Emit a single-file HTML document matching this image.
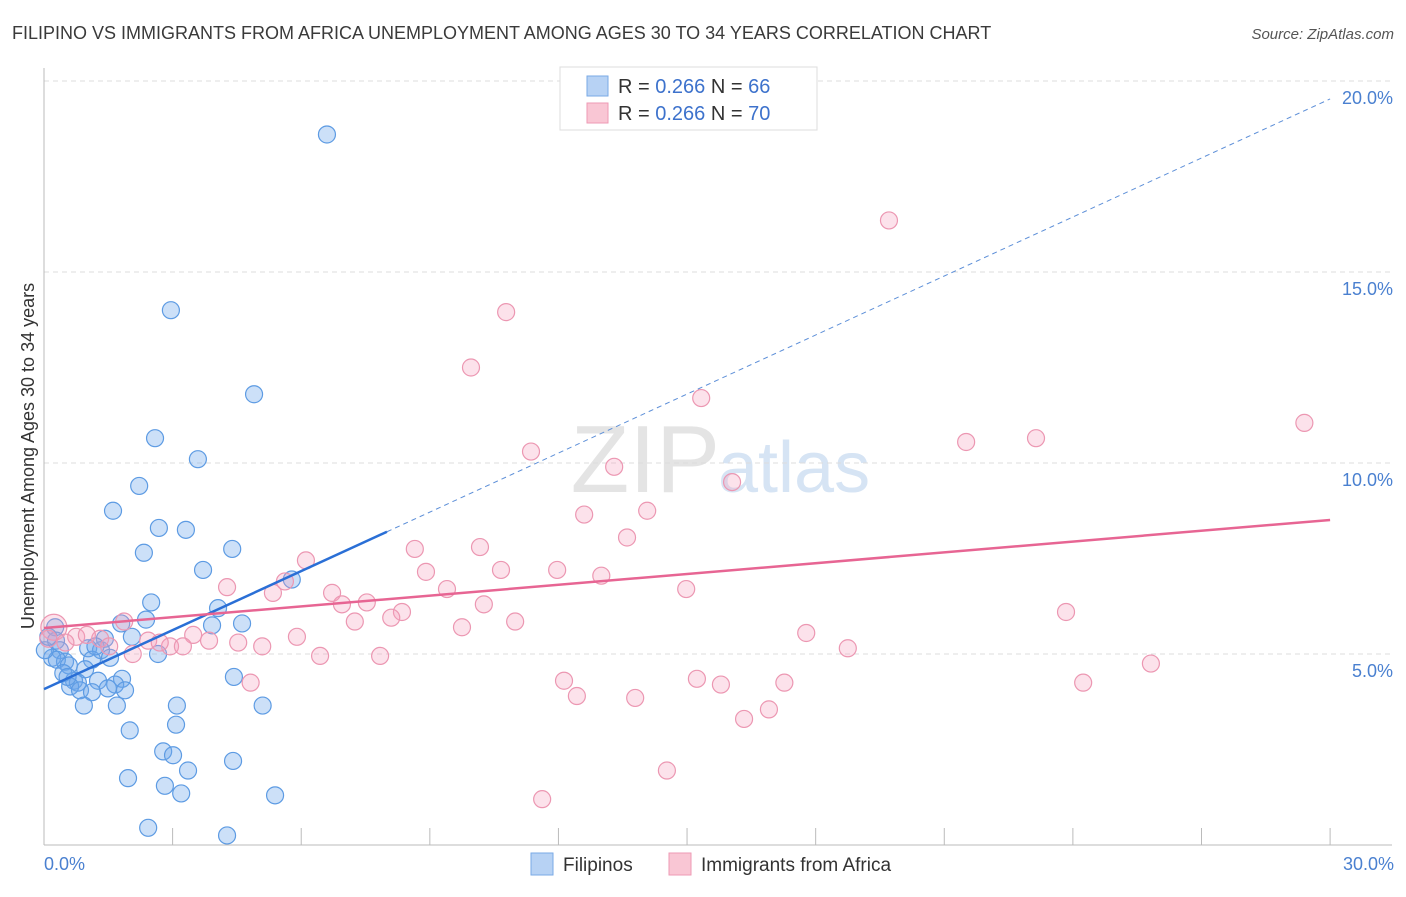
<!DOCTYPE html>
<html><head><meta charset="utf-8"><style>
body{margin:0;background:#fff;font-family:"Liberation Sans",sans-serif}
svg text{font-family:"Liberation Sans",sans-serif}
</style></head><body>
<svg width="1406" height="892" viewBox="0 0 1406 892">
<text x="12" y="39" font-size="18" fill="#3a3a3a">FILIPINO VS IMMIGRANTS FROM AFRICA UNEMPLOYMENT AMONG AGES 30 TO 34 YEARS CORRELATION CHART</text>
<text x="1394" y="39" font-size="15" fill="#555" text-anchor="end" font-style="italic">Source: ZipAtlas.com</text>
<text x="720" y="492" font-size="96" fill="#e4e4e4" text-anchor="end" font-family="Liberation Serif">ZIP</text>
<text x="718" y="492" font-size="72" fill="#d6e4f4">atlas</text>
<g id="grid"></g>
<g id="axes"></g>
<g id="pts"></g>
<g id="lines"></g>
<text transform="translate(34,456) rotate(-90)" font-size="18" fill="#333" text-anchor="middle">Unemployment Among Ages 30 to 34 years</text>
<text x="44" y="870" font-size="18" fill="#4a80d0">0.0%</text>
<text x="1394" y="870" font-size="18" fill="#4a80d0" text-anchor="end">30.0%</text>
<g>
<rect x="560" y="67" width="257" height="63" fill="#fff" stroke="#ddd"/>
<rect x="587" y="76" width="21" height="20" fill="#b7d2f4" stroke="#7aaae6"/>
<rect x="587" y="103" width="21" height="20" fill="#f9c6d4" stroke="#ee9ab4"/>
<text x="618" y="93" font-size="20" fill="#333">R = <tspan fill="#3d72cc">0.266</tspan>   N = <tspan fill="#3d72cc">66</tspan></text>
<text x="618" y="120" font-size="20" fill="#333">R = <tspan fill="#3d72cc">0.266</tspan>   N = <tspan fill="#3d72cc">70</tspan></text>
</g>
<g>
<rect x="531" y="853" width="22" height="22" fill="#b7d2f4" stroke="#7aaae6"/>
<text x="563" y="871" font-size="19" fill="#333">Filipinos</text>
<rect x="669" y="853" width="22" height="22" fill="#f9c6d4" stroke="#ee9ab4"/>
<text x="701" y="871" font-size="19" fill="#333">Immigrants from Africa</text>
</g>
</svg>
<script>
const yTicks=[5,10,15,20];
const yTickLabels=["5.0%","10.0%","15.0%","20.0%"];
const xTicks=[3,6,9,12,15,18,21,24,27,30];
const blueX=[6.6,2.96,4.9,2.59,3.59,2.22,1.61,2.68,3.31,4.39,2.33,3.71,5.78,2.5,4.06,2.38,1.8,4.62,3.92,0.26,2.05,1.42,0.28,1.03,0.37,1.33,2.66,0.19,1.54,1.12,0.49,0.3,0.58,0.96,4.43,1.82,1.26,0.7,0.79,1.66,0.61,1.49,1.89,0.84,1.12,0.93,1.7,3.1,5.1,3.08,2.0,2.78,3.01,4.41,3.36,1.96,2.82,3.2,5.39,2.43,4.27,0.02,0.1,0.45,1.2,0.55];
const blueY=[18.6,14.0,11.8,10.65,10.1,9.4,8.75,8.3,8.25,7.75,7.65,7.2,6.95,6.35,6.2,5.9,5.8,5.8,5.75,5.7,5.45,5.4,5.35,5.15,5.1,5.1,5.0,4.9,4.9,4.85,4.8,4.85,4.7,4.6,4.4,4.35,4.3,4.3,4.25,4.2,4.15,4.1,4.05,4.05,4.0,3.65,3.65,3.65,3.65,3.15,3.0,2.45,2.35,2.2,1.95,1.75,1.55,1.35,1.3,0.45,0.25,5.1,5.45,4.5,5.2,4.4];
const pinkX=[19.71,10.78,9.96,15.33,29.4,23.14,21.51,11.36,13.3,16.05,14.07,12.6,13.6,10.17,8.65,6.11,8.91,10.66,11.97,13.0,5.62,4.27,9.4,14.98,5.34,6.72,7.53,6.95,10.26,8.35,23.84,8.1,7.25,10.99,1.87,9.75,0.23,17.78,5.9,3.48,0.75,1.31,2.43,3.85,4.53,5.09,2.94,3.24,1.52,18.75,2.07,6.44,7.84,25.82,24.24,4.82,12.13,15.23,15.79,17.27,12.43,13.79,16.91,16.33,14.53,11.62,0.5,1.0,0.1,2.7];
const pinkY=[16.35,13.95,12.5,11.7,11.05,10.65,10.55,10.3,9.9,9.5,8.75,8.65,8.05,7.8,7.75,7.45,7.15,7.2,7.2,7.05,6.9,6.75,6.7,6.7,6.6,6.6,6.35,6.3,6.3,6.1,6.1,5.95,5.85,5.85,5.85,5.7,5.7,5.55,5.45,5.5,5.45,5.4,5.35,5.35,5.3,5.2,5.2,5.2,5.2,5.15,5.0,4.95,4.95,4.75,4.25,4.25,4.3,4.35,4.2,4.25,3.9,3.85,3.55,3.3,1.95,1.2,5.3,5.5,5.4,5.3];
const blueTrend=[4.08,0.515];
const pinkTrend=[5.68,0.0943];
const X=v=>44+v*42.87, Y=v=>845-v*38.2;
const NS="http://www.w3.org/2000/svg";
function mk(tag,attrs,parent){const e=document.createElementNS(NS,tag);for(const k in attrs)e.setAttribute(k,attrs[k]);document.getElementById(parent).appendChild(e);return e;}
yTicks.forEach((t,i)=>{
 const l=mk('line',{x1:44,x2:1392,y1:Y(t),y2:Y(t),stroke:'#ddd','stroke-dasharray':'5,4'},'grid');
 
 
 const tx=mk('text',{x:1393,y:Y(t)+23,'font-size':18,fill:'#4a80d0','text-anchor':'end'},'grid');
 tx.textContent=yTickLabels[i];
 
 
});
const ax=mk('line',{x1:44,x2:44,y1:68,y2:845,stroke:'#bbb'},'axes');


const bx=mk('line',{x1:44,x2:1392,y1:845,y2:845,stroke:'#bbb'},'axes');


xTicks.forEach(t=>{
 const l=mk('line',{x1:X(t),x2:X(t),y1:828,y2:845,stroke:'#bbb'},'axes');
 
 
});
blueX.forEach((v,i)=>{
 const c=mk('circle',{cx:X(v),cy:Y(blueY[i]),r:8.5,fill:'rgba(110,165,235,0.35)',stroke:'#5d9be3','stroke-width':1.2},'pts');
 
 
});
pinkX.forEach((v,i)=>{
 const c=mk('circle',{cx:X(v),cy:Y(pinkY[i]),r:i==36?13:8.5,fill:'rgba(245,160,190,0.3)',stroke:'#ec97b2','stroke-width':1.2},'pts');
 
 
});
const bs=mk('line',{x1:X(0),y1:Y(blueTrend[0]),x2:X(8),y2:Y(blueTrend[0]+8*blueTrend[1]),stroke:'#2a6fd6','stroke-width':2.5},'lines');


const bd=mk('line',{x1:X(8),y1:Y(blueTrend[0]+8*blueTrend[1]),x2:X(30),y2:Y(blueTrend[0]+30*blueTrend[1]),stroke:'#5d8fd8','stroke-width':1,'stroke-dasharray':'5,4'},'lines');


const ps=mk('line',{x1:X(0),y1:Y(pinkTrend[0]),x2:X(30),y2:Y(pinkTrend[0]+30*pinkTrend[1]),stroke:'#e76593','stroke-width':2.5},'lines');


</script>
</body></html>
